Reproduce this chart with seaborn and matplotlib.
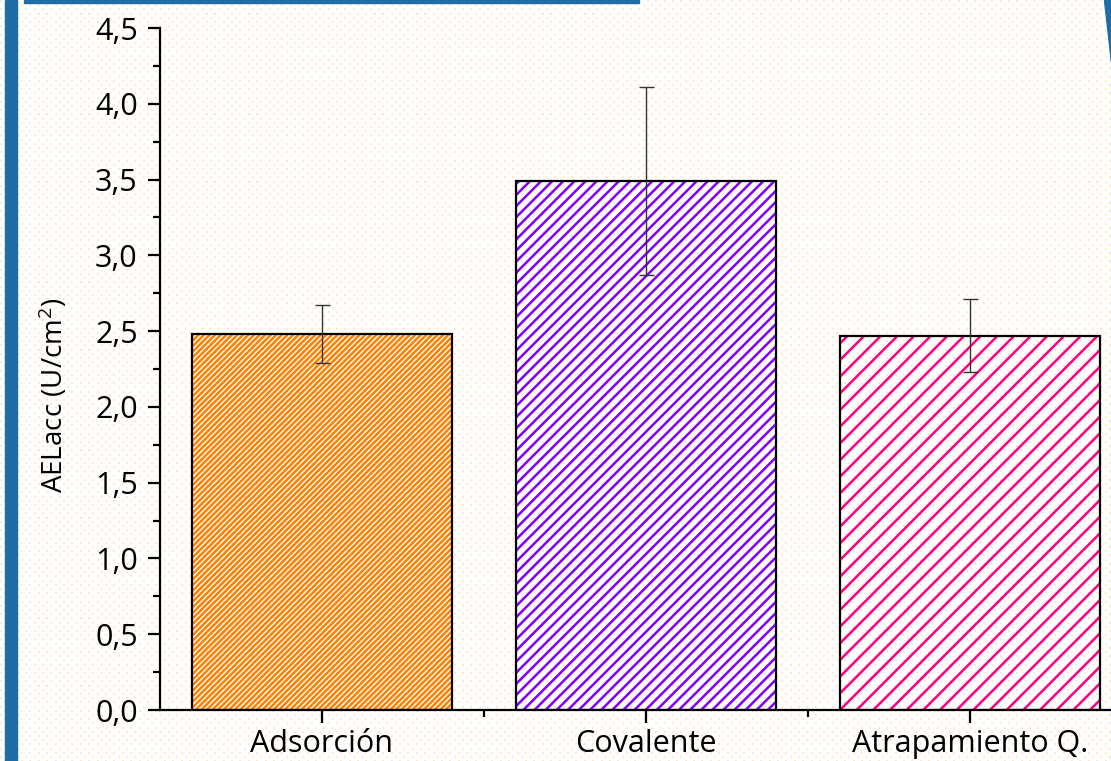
import numpy as np
import pandas as pd
import matplotlib
matplotlib.use("Agg")
import matplotlib.pyplot as plt
from matplotlib.patches import Rectangle, Polygon
from matplotlib.ticker import MultipleLocator, FixedLocator, FuncFormatter
import seaborn as sns

# Immobilisation methods and the activity measured for each
methods = ["Adsorción", "Covalente", "Atrapamiento Q."]
activity = [2.48, 3.49, 2.47]
activity_sd = [0.19, 0.62, 0.24]
hatch_colors = ["#FF8000", "#8000FF", "#FF0080"]
hatches = ["//////", "///", "//"]

df = pd.DataFrame({"method": methods, "activity": activity})

sns.set_theme(style="white")
plt.rcParams["font.family"] = ["Open Sans", "DejaVu Sans"]
plt.rcParams["mathtext.fontset"] = "custom"
plt.rcParams["mathtext.rm"] = "Open Sans"
plt.rcParams["mathtext.it"] = "Open Sans"
plt.rcParams["hatch.linewidth"] = 1.8

W, H = 1111, 761
fig = plt.figure(figsize=(W / 100, H / 100), dpi=100)

# Dotted paper background
bg = np.ones((H, W, 3))
dot = np.array([0.992, 0.918, 0.835])
step = 8.4
for j in range(int(H / (step / 2)) + 2):
    yy = int(round(j * step / 2))
    off = (step / 2) if j % 2 else 0.0
    for i in range(int(W / step) + 2):
        xx = int(round(i * step + off))
        bg[yy:yy + 2, xx:xx + 2] = dot
fig.figimage(bg[:H, :W], xo=0, yo=0, origin="upper", zorder=-10)

# Blue frame accents
blue = "#1F6CA6"
fig.patches.append(Rectangle((5 / W, 0), 12 / W, 1, transform=fig.transFigure,
                             color=blue, zorder=-5))
fig.patches.append(Rectangle((24 / W, 1 - 2.5 / H), 615 / W, 2.5 / H,
                             transform=fig.transFigure, color=blue, zorder=-5))
fig.patches.append(Polygon([(1104 / W, 1), (1111 / W, 1), (1111 / W, 1 - 62 / H)],
                           closed=True, transform=fig.transFigure, color=blue,
                           zorder=-5))

ax = fig.add_axes([160 / W, 1 - 710 / H, (1132 - 160) / W, (710 - 28) / H])
ax.set_facecolor("none")

# Hatched fill
sns.barplot(data=df, x="method", y="activity", ax=ax, width=0.8,
            errorbar=None, fill=True, linewidth=0, zorder=2)
for patch, c, h in zip(ax.patches, hatch_colors, hatches):
    patch.set_facecolor("none")
    patch.set_edgecolor(c)
    patch.set_hatch(h)
    patch.set_linewidth(0)

# Black outlines
sns.barplot(data=df, x="method", y="activity", ax=ax, width=0.8,
            errorbar=None, fill=False, color="black", linewidth=1.6, zorder=3)
for patch in ax.patches[len(methods):]:
    patch.set_edgecolor("black")

ax.errorbar(np.arange(len(methods)), activity, yerr=activity_sd, fmt="none",
            ecolor="#333333", elinewidth=1.0, capsize=5.4, capthick=1.0, zorder=4)

ax.set_xlim(-0.5, 2.5)
ax.set_ylim(0, 4.5)
ax.yaxis.set_major_locator(MultipleLocator(0.5))
ax.yaxis.set_minor_locator(MultipleLocator(0.25))
ax.xaxis.set_minor_locator(FixedLocator([0.5, 1.5]))
ax.yaxis.set_major_formatter(FuncFormatter(lambda v, p: f"{v:.1f}".replace(".", ",")))

for side in ("top", "right"):
    ax.spines[side].set_visible(False)
for side in ("left", "bottom"):
    ax.spines[side].set_color("black")
    ax.spines[side].set_linewidth(1.6)

ax.tick_params(axis="both", which="major", direction="out", length=9, width=1.6,
               color="black", labelsize=22, labelcolor="black", pad=7,
               left=True, bottom=True)
ax.tick_params(axis="both", which="minor", direction="out", length=5, width=1.6,
               color="black", left=True, bottom=True)
ax.tick_params(axis="x", which="major", pad=5)

ax.set_xlabel("")
ax.set_ylabel("AELacc (U/cm$^{2}$)", fontsize=20, color="black")
ax.yaxis.set_label_coords(-0.093, 0.462)

fig.savefig("out.png", dpi=100)
